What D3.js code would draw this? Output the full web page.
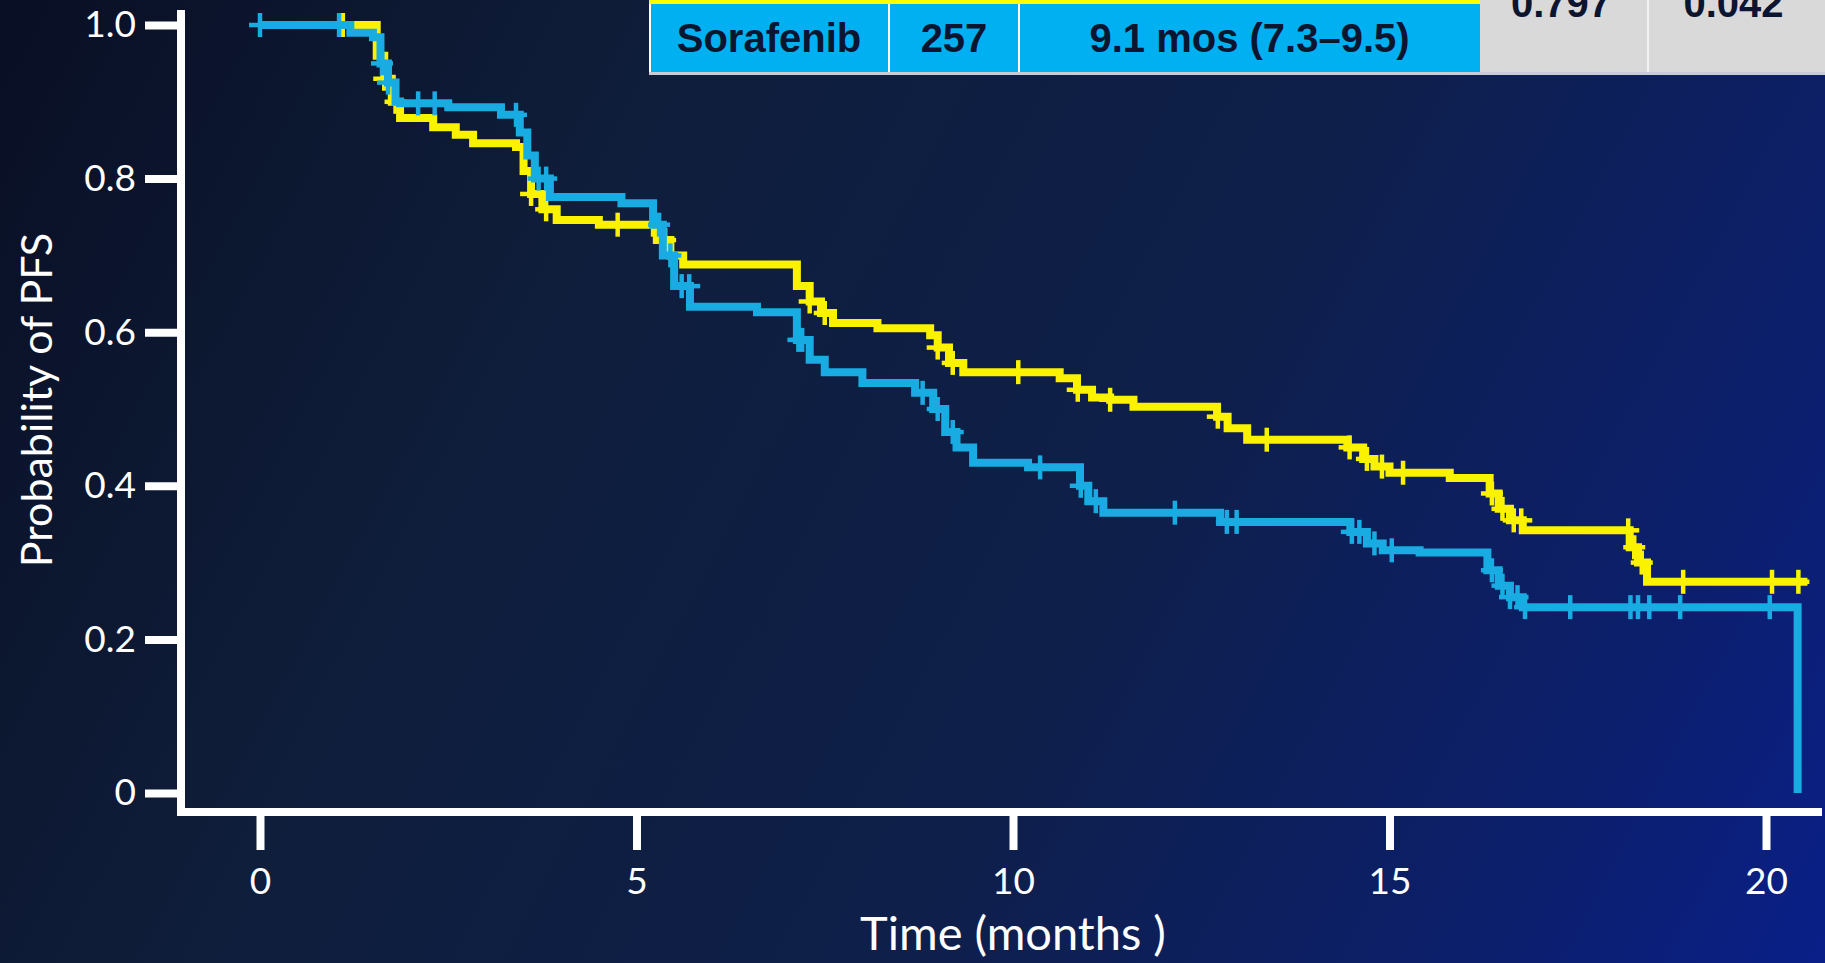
<!DOCTYPE html>
<html>
<head>
<meta charset="utf-8">
<script src="https://cdn.jsdelivr.net/npm/d3@7"></script>
<style>
  body { margin: 0; overflow: hidden; background: #0b1430; }
  svg { display: block; }
</style>
</head>
<body>
<svg id="chart" width="1825" height="963"></svg>
<script>
// ---- data ----
var xTicks = [0, 5, 10, 15, 20];
var xTickLabels = ["0", "5", "10", "15", "20"];
var yTicks = [1.0, 0.8, 0.6, 0.4, 0.2, 0];
var yTickLabels = ["1.0", "0.8", "0.6", "0.4", "0.2", "0"];

// yellow arm: step points [time, survival]
var yellowTimes = [0, 1.55, 1.65, 1.75, 1.86, 2.3, 2.6, 2.83, 3.4, 3.5, 3.6, 3.75, 3.94, 4.5,
  5.27, 5.45, 5.62, 7.13, 7.3, 7.45, 7.61, 8.2, 8.9, 9.0, 9.15, 9.34,
  10.62, 10.85, 11.05, 11.29, 11.6, 12.71, 12.85, 13.11, 14.44, 14.65, 14.8, 15.0, 15.8,
  16.33, 16.45, 16.6, 16.77, 18.19, 18.3, 18.42, 20.55];
var yellowSurv = [1.0, 0.96, 0.93, 0.9, 0.879, 0.867, 0.857, 0.846, 0.841, 0.81, 0.78, 0.76, 0.746, 0.74,
  0.72, 0.7, 0.688, 0.66, 0.64, 0.625, 0.612, 0.605, 0.596, 0.58, 0.56, 0.548,
  0.54, 0.525, 0.515, 0.512, 0.503, 0.49, 0.475, 0.46, 0.45, 0.435, 0.425, 0.417, 0.41,
  0.39, 0.37, 0.355, 0.342, 0.32, 0.3, 0.275, 0.275];
var yellowCensor = [1.1, 1.65, 1.8, 3.6, 3.8, 4.75, 5.22, 5.38, 7.3, 7.5, 9.0, 9.2, 10.07, 10.86,
  11.29, 12.72, 13.37, 14.47, 14.7, 14.9, 15.18, 16.36, 16.5, 16.65, 16.75, 18.17, 18.25,
  18.35, 18.9, 20.08, 20.43];

// sorafenib arm (blue)
var blueTimes = [0, 1.2, 1.5, 1.6, 1.7, 1.8, 1.86, 2.5, 3.2, 3.45, 3.55, 3.65, 3.85, 4.8,
  5.22, 5.35, 5.5, 5.71, 6.6, 7.13, 7.3, 7.5, 8.0, 8.7, 8.94, 9.1, 9.25, 9.47, 10.2,
  10.89, 11.0, 11.2, 12.75, 14.48, 14.7, 14.91, 15.4, 16.3, 16.45, 16.6, 16.77, 20.42];
var blueSurv = [1.0, 0.99, 0.984, 0.95, 0.925, 0.9, 0.898, 0.893, 0.883, 0.86, 0.83, 0.8, 0.776, 0.768,
  0.74, 0.7, 0.66, 0.633, 0.626, 0.59, 0.564, 0.548, 0.534, 0.521, 0.5, 0.47, 0.45, 0.43, 0.424,
  0.4, 0.38, 0.365, 0.353, 0.34, 0.325, 0.316, 0.313, 0.29, 0.27, 0.255, 0.242, 0];
var blueCensor = [0, 1.05, 1.62, 1.7, 2.1, 2.32, 3.4, 3.7, 3.8, 5.3, 5.45, 5.6, 5.7, 7.15, 7.2,
  8.8, 9.0, 9.2, 10.36, 10.9, 11.1, 12.15, 12.84, 12.97, 14.5, 14.6, 14.8, 15.03, 16.36,
  16.5, 16.6, 16.7, 16.8, 17.4, 18.2, 18.3, 18.45, 18.86, 20.05];

// table strip at the top
var tableRow = ["Sorafenib", "257", "9.1 mos (7.3\u20139.5)"];
var tableStats = ["0.797", "0.042"];

// ---- drawing ----
var svg = d3.select("#chart");
var W = 1825, H = 963;

var defs = svg.append("defs");
var grad = defs.append("linearGradient")
    .attr("id", "bg")
    .attr("gradientUnits", "userSpaceOnUse")
    .attr("x1", 0).attr("y1", 0).attr("x2", W).attr("y2", H);
grad.append("stop").attr("offset", 0).attr("stop-color", "#090f24");
grad.append("stop").attr("offset", 0.3).attr("stop-color", "#0f1e3b");
grad.append("stop").attr("offset", 0.6).attr("stop-color", "#0e1f4a");
grad.append("stop").attr("offset", 0.85).attr("stop-color", "#0c1f6c");
grad.append("stop").attr("offset", 1).attr("stop-color", "#0a1f88");

svg.append("rect").attr("width", W).attr("height", H).attr("fill", "url(#bg)");

var x = d3.scaleLinear().domain([0, 20]).range([260, 1766]);
var y = d3.scaleLinear().domain([0, 1]).range([793, 25]);

var axisFont = "Lato, 'Open Sans', sans-serif";

// y axis
var yAxis = svg.append("g")
    .attr("transform", "translate(181,0)")
    .call(d3.axisLeft(y).tickValues(yTicks).tickSize(36).tickPadding(9)
      .tickFormat(function(d, i) { return yTickLabels[i]; }));
yAxis.select(".domain").remove();
yAxis.selectAll(".tick line").attr("stroke", "#fff").attr("stroke-width", 8);
yAxis.selectAll(".tick text")
    .attr("fill", "#fff")
    .style("font-family", axisFont)
    .style("font-size", "37px");

// x axis
var xAxis = svg.append("g")
    .attr("transform", "translate(0,812)")
    .call(d3.axisBottom(x).tickValues(xTicks).tickSize(38).tickPadding(18)
      .tickFormat(function(d, i) { return xTickLabels[i]; }));
xAxis.select(".domain").remove();
xAxis.selectAll(".tick line").attr("stroke", "#fff").attr("stroke-width", 8);
xAxis.selectAll(".tick text")
    .attr("fill", "#fff")
    .style("font-family", axisFont)
    .style("font-size", "37px");

// spines
svg.append("line").attr("x1", 181).attr("x2", 181).attr("y1", 10).attr("y2", 816)
    .attr("stroke", "#fff").attr("stroke-width", 8);
svg.append("line").attr("x1", 177).attr("x2", 1822).attr("y1", 812).attr("y2", 812)
    .attr("stroke", "#fff").attr("stroke-width", 8);

// axis titles
svg.append("text")
    .attr("x", 1013).attr("y", 950)
    .attr("text-anchor", "middle")
    .attr("fill", "#fff")
    .style("font-family", axisFont)
    .style("font-size", "47px")
    .text("Time (months )");

svg.append("text")
    .attr("transform", "translate(52,400) rotate(-90)")
    .attr("text-anchor", "middle")
    .attr("fill", "#fff")
    .style("font-family", axisFont)
    .style("font-size", "43px")
    .text("Probability of PFS");

// KM curves
function survAt(times, surv, t) {
  var i = d3.bisectRight(times, t) - 1;
  return surv[Math.max(0, i)];
}

var stepLine = d3.line()
    .x(function(d) { return x(d[0]); })
    .y(function(d) { return y(d[1]); })
    .curve(d3.curveStepAfter);

var arms = [
  {times: yellowTimes, surv: yellowSurv, censor: yellowCensor, color: "#fbf200"},
  {times: blueTimes, surv: blueSurv, censor: blueCensor, color: "#19ace2"}
];

arms.forEach(function(arm) {
  var pts = arm.times.map(function(t, i) { return [t, arm.surv[i]]; });
  svg.append("path")
      .datum(pts)
      .attr("d", stepLine)
      .attr("fill", "none")
      .attr("stroke", arm.color)
      .attr("stroke-width", 8)
      .attr("stroke-linejoin", "miter");

  // censor marks
  var g = svg.append("g");
  g.selectAll("line.c")
    .data(arm.censor)
    .enter().append("line")
      .attr("x1", function(d) { return x(d); })
      .attr("x2", function(d) { return x(d); })
      .attr("y1", function(d) { return y(survAt(arm.times, arm.surv, d)) - 12; })
      .attr("y2", function(d) { return y(survAt(arm.times, arm.surv, d)) + 12; })
      .attr("stroke", arm.color)
      .attr("stroke-width", 4.5);
  g.selectAll("line.h")
    .data(arm.censor)
    .enter().append("line")
      .attr("x1", function(d) { return x(d) - 11; })
      .attr("x2", function(d) { return x(d) + 11; })
      .attr("y1", function(d) { return y(survAt(arm.times, arm.surv, d)); })
      .attr("y2", function(d) { return y(survAt(arm.times, arm.surv, d)); })
      .attr("stroke", arm.color)
      .attr("stroke-width", 4.5);
});

// table strip (cut off at the top of the slide)
var tbl = svg.append("g");
var cellX = [649, 889, 1019, 1480];
var statX = [1480, 1648, 1825];
var tableFont = "'Liberation Sans', Arial, sans-serif";

tbl.append("rect").attr("x", 649).attr("y", 0).attr("width", 1480 - 649).attr("height", 4)
    .attr("fill", "#ffff00");
tbl.append("rect").attr("x", 649).attr("y", 4).attr("width", 1480 - 649).attr("height", 68)
    .attr("fill", "#00b0f0");
tbl.append("rect").attr("x", 1480).attr("y", 0).attr("width", 1825 - 1480).attr("height", 72)
    .attr("fill", "#d9d9d9");
tbl.append("rect").attr("x", 649).attr("y", 72).attr("width", 1825 - 649).attr("height", 3)
    .attr("fill", "#c9ccd4");
[889, 1019].forEach(function(d) {
  tbl.append("rect").attr("x", d - 1).attr("y", 4).attr("width", 2).attr("height", 68)
      .attr("fill", "#ffffff");
});
tbl.append("rect").attr("x", 649).attr("y", 4).attr("width", 2).attr("height", 68)
    .attr("fill", "#ffffff");
tbl.append("rect").attr("x", 1647).attr("y", 0).attr("width", 2).attr("height", 72)
    .attr("fill", "#f2f2f2");

tbl.selectAll("text.row")
  .data(tableRow)
  .enter().append("text")
    .attr("x", function(d, i) { return (cellX[i] + cellX[i + 1]) / 2; })
    .attr("y", 52)
    .attr("text-anchor", "middle")
    .attr("fill", "#0b1530")
    .style("font-family", tableFont)
    .style("font-weight", "bold")
    .style("font-size", "40px")
    .text(function(d) { return d; });

tbl.selectAll("text.stat")
  .data(tableStats)
  .enter().append("text")
    .attr("x", function(d, i) { return (statX[i] + statX[i + 1]) / 2 - 3; })
    .attr("y", 17)
    .attr("text-anchor", "middle")
    .attr("fill", "#0b1530")
    .style("font-family", tableFont)
    .style("font-weight", "bold")
    .style("font-size", "40px")
    .text(function(d) { return d; });
</script>
</body>
</html>
